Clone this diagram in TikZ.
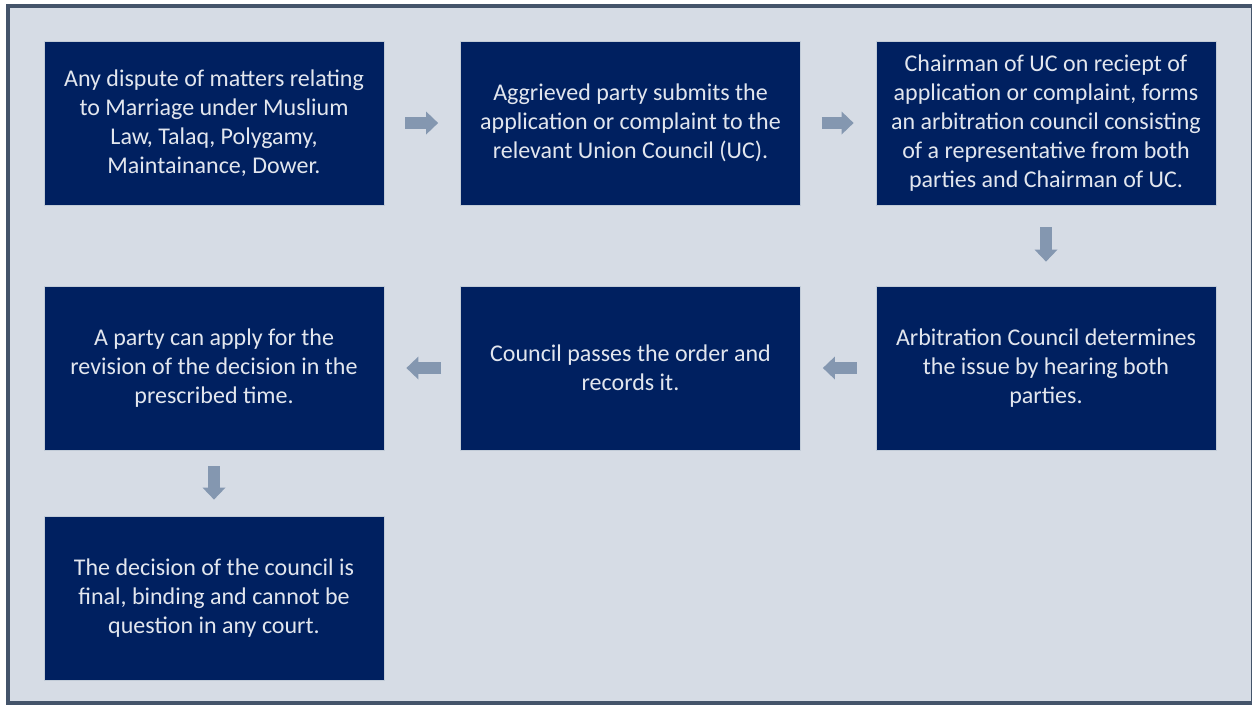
\documentclass[tikz,border=0pt]{standalone}
\usepackage{fontspec}
\setmainfont{Carlito}
\usepackage{tikz}
\usetikzlibrary{arrows.meta}
\definecolor{navy}{RGB}{0,32,96}
\definecolor{panel}{RGB}{214,220,229}
\definecolor{framegray}{RGB}{68,84,106}
\definecolor{steel}{RGB}{132,151,176}
\definecolor{boxtext}{RGB}{226,230,238}
\tikzset{
  stepbox/.style={rectangle,fill=navy,draw=steel!50!white,line width=0.6pt,minimum width=255pt,minimum height=123pt,inner sep=0pt,align=center,text=boxtext,font=\fontsize{18pt}{21.75pt}\selectfont},
  flow/.style={draw=steel,line width=9pt,-{Triangle[width=17.25pt,length=9pt,line width=0pt]}},
  backdrop/.style={draw=framegray,line width=3pt,fill=panel}
}

\begin{document}
\begin{tikzpicture}[x=0.75pt,y=-0.75pt]
  \useasboundingbox (0,0) rectangle (1252,704);
  \fill[white] (0,0) rectangle (1252,704);
  \draw[backdrop] (8,6) rectangle (1253,702.5);

  % first row
  \node[stepbox] (dispute) at (214,123) {Any dispute of matters relating\\to Marriage under Muslium\\Law, Talaq, Polygamy,\\Maintainance, Dower.};
  \node[stepbox] (submit) at (630.5,123) {Aggrieved party submits the\\application or complaint to the\\relevant Union Council (UC).};
  \node[stepbox] (chairman) at (1046,123) {Chairman of UC on reciept of\\application or complaint, forms\\an arbitration council consisting\\of a representative from both\\parties and Chairman of UC.};

  % second row
  \node[stepbox] (hearing) at (1046,368) {Arbitration Council determines\\the issue by hearing both\\parties.};
  \node[stepbox] (order) at (630.5,368) {Council passes the order and\\records it.};
  \node[stepbox] (revision) at (214,368) {A party can apply for the\\revision of the decision in the\\prescribed time.};

  % last one
  \node[stepbox] (final) at (214,598) {The decision of the council is\\final, binding and cannot be\\question in any court.};

  \draw[flow,shorten <=21pt*0.75,shorten >=22pt*0.75] (dispute.east) -- (submit.west);
  \draw[flow,shorten <=21pt*0.75,shorten >=22pt*0.75] (submit.east) -- (chairman.west);
  \draw[flow,shorten <=22pt*0.75,shorten >=24pt*0.75] (chairman.south) -- (hearing.north);
  \draw[flow,shorten <=19pt*0.75,shorten >=22pt*0.75] (hearing.west) -- (order.east);
  \draw[flow,shorten <=19pt*0.75,shorten >=22pt*0.75] (order.west) -- (revision.east);
  \draw[flow,shorten <=16pt*0.75,shorten >=16pt*0.75] (revision.south) -- (final.north);
\end{tikzpicture}
\end{document}
